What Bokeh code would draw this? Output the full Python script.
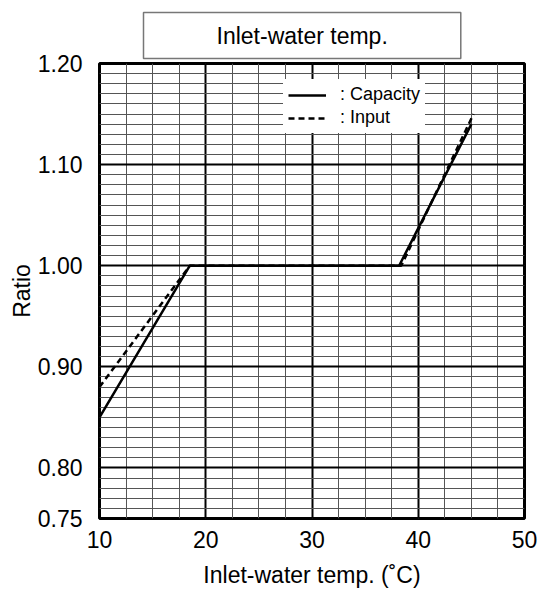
from bokeh.plotting import figure
from bokeh.models import (SingleIntervalTicker, FixedTicker, PrintfTickFormatter,
                          Legend, LegendItem, Title, Range1d)
from bokeh.embed import file_html
from bokeh.resources import INLINE

# Correction ratio vs. inlet-water temperature
cap_temp = [10, 18.5, 38.2, 45.0]
cap_ratio = [0.85, 1.00, 1.00, 1.14]
inp_temp = [10, 18.5, 38.4, 45.2]
inp_ratio = [0.88, 1.00, 1.00, 1.15]

y_ticks = [0.75, 0.80, 0.90, 1.00, 1.10, 1.20]
y_minor = [round(0.75 + 0.01 * i, 2) for i in range(46)]

FONT = "Liberation Sans"

p = figure(width=541, height=591, x_range=Range1d(10, 50), y_range=Range1d(0.75, 1.20),
           output_backend="svg", toolbar_location=None,
           min_border_left=99, min_border_right=17, min_border_top=63, min_border_bottom=73)

xt = SingleIntervalTicker(interval=10, num_minor_ticks=4)
yt = FixedTicker(ticks=y_ticks, minor_ticks=y_minor)
p.xaxis.ticker = xt
p.yaxis.ticker = yt
p.xgrid.ticker = xt
p.ygrid.ticker = yt
p.yaxis.formatter = PrintfTickFormatter(format="%.2f")

for g in (p.xgrid, p.ygrid):
    g.grid_line_color = "black"
    g.grid_line_width = 2
    g.minor_grid_line_color = "#555555"
    g.minor_grid_line_width = 1

for ax in (p.xaxis, p.yaxis):
    ax.axis_line_color = None
    ax.major_tick_line_color = None
    ax.minor_tick_line_color = None
    ax.major_label_text_font = FONT
    ax.major_label_text_font_size = "23px"
    ax.major_label_text_color = "black"
    ax.axis_label_text_font = FONT
    ax.axis_label_text_font_size = "23px"
    ax.axis_label_text_font_style = "normal"
    ax.axis_label_text_color = "black"

p.xaxis.axis_label = "Inlet-water temp. (˚C)"
p.yaxis.axis_label = "Ratio"
p.xaxis.major_label_standoff = 6
p.yaxis.major_label_standoff = 11
p.xaxis.axis_label_standoff = 11
p.yaxis.axis_label_standoff = 0

p.outline_line_color = "black"
p.outline_line_width = 3

r_cap = p.line(cap_temp, cap_ratio, line_width=2.5, color="black")
r_inp = p.line(inp_temp, inp_ratio, line_width=2.5, color="black", line_dash="6 4")

legend = Legend(items=[LegendItem(label=": Capacity", renderers=[r_cap]),
                       LegendItem(label=": Input", renderers=[r_inp])],
                location=(184, 385), orientation="vertical",
                label_text_font=FONT, label_text_font_size="18px",
                label_text_color="black",
                glyph_width=38, glyph_height=20, label_height=20,
                label_standoff=14, padding=5, spacing=2, margin=0,
                border_line_alpha=0, background_fill_color="white",
                background_fill_alpha=1)
p.add_layout(legend)

p.title = Title(text="Inlet-water temp.", align="left", offset=44,
                text_font=FONT, text_font_size="23px", text_font_style="normal",
                text_color="black", border_line_color="#777777", border_line_width=1.5,
                background_fill_color="white", padding=(73, 10), standoff=10)

open("out.html", "w").write(file_html(p, INLINE))
